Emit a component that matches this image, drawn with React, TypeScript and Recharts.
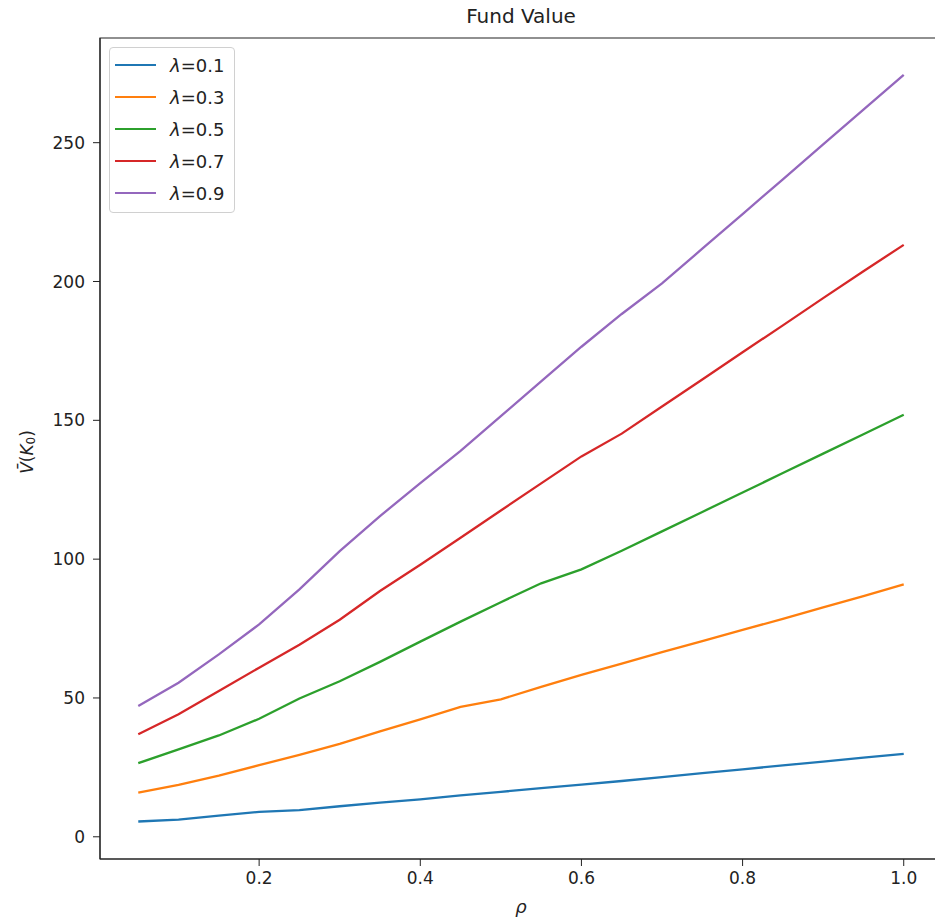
import { LineChart, Line, XAxis, YAxis, ReferenceArea, Legend, Label } from 'recharts';

const rho = [0.05, 0.1, 0.15, 0.2, 0.25, 0.3, 0.35, 0.4, 0.45, 0.5, 0.55, 0.6, 0.65, 0.7, 0.75, 0.8, 0.85, 0.9, 0.95, 1.0];

const lambda01 = [5.5, 6.2, 7.6, 9.0, 9.6, 11.0, 12.3, 13.5, 14.9, 16.2, 17.5, 18.8, 20.1, 21.5, 22.9, 24.3, 25.7, 27.1, 28.5, 29.9];
const lambda03 = [15.9, 18.7, 22.0, 25.8, 29.5, 33.5, 38.0, 42.3, 46.8, 49.5, 54.0, 58.3, 62.4, 66.5, 70.5, 74.5, 78.5, 82.6, 86.7, 90.9];
const lambda05 = [26.5, 31.5, 36.5, 42.5, 49.8, 56.0, 63.0, 70.3, 77.5, 84.5, 91.3, 96.3, 103.0, 110.0, 117.0, 124.0, 131.0, 138.0, 145.0, 152.0];
const lambda07 = [36.9, 44.1, 52.5, 60.9, 69.2, 78.2, 88.5, 98.0, 107.7, 117.5, 127.3, 137.0, 145.2, 155.0, 164.7, 174.5, 184.2, 194.0, 203.7, 213.2];
const lambda09 = [47.1, 55.5, 65.7, 76.5, 89.1, 102.9, 115.5, 127.4, 139.0, 151.5, 164.0, 176.5, 188.3, 199.3, 211.8, 224.3, 236.8, 249.4, 261.9, 274.4];

const xTicks = [0.2, 0.4, 0.6, 0.8, 1.0];
const yTicks = [0, 50, 100, 150, 200, 250];

const series = [
  { key: 'l01', name: '0.1', values: lambda01, color: '#1f77b4' },
  { key: 'l03', name: '0.3', values: lambda03, color: '#ff7f0e' },
  { key: 'l05', name: '0.5', values: lambda05, color: '#2ca02c' },
  { key: 'l07', name: '0.7', values: lambda07, color: '#d62728' },
  { key: 'l09', name: '0.9', values: lambda09, color: '#9467bd' },
];

const data = rho.map((r, i) => {
  const row: Record<string, number> = { rho: r };
  series.forEach((s) => {
    row[s.key] = s.values[i];
  });
  return row;
});

const FONT = '"DejaVu Sans", sans-serif';
const X_DOMAIN: [number, number] = [0.0025, 1.0475];
const Y_DOMAIN: [number, number] = [-8, 287.7];

const LegendBox = () => (
  <div
    style={{
      border: '1px solid #d0d0d0',
      borderRadius: 4,
      background: 'rgba(255,255,255,0.8)',
      padding: '1px 10px 3px 5px',
      fontFamily: FONT,
      fontSize: 18,
      color: '#222',
      width: 'fit-content',
    }}
  >
    {series.map((s) => (
      <div key={s.key} style={{ display: 'flex', alignItems: 'center', height: 32 }}>
        <div style={{ width: 41, height: 2.5, background: s.color, marginRight: 14 }} />
        <span>
          <span style={{ fontStyle: 'italic' }}>λ</span>={s.name}
        </span>
      </div>
    ))}
  </div>
);

const YLabel = () => (
  <text
    x={27}
    y={452}
    transform="rotate(-90, 27, 452)"
    textAnchor="middle"
    dominantBaseline="central"
    fontFamily={FONT}
    fontSize={17}
    fill="#222"
  >
    <tspan fontStyle="italic">V̄</tspan>
    <tspan>(</tspan>
    <tspan fontStyle="italic">K</tspan>
    <tspan fontSize={12} dy={4}>0</tspan>
    <tspan dy={-4}>)</tspan>
  </text>
);

const XLabel = () => (
  <text
    x={521}
    y={906}
    textAnchor="middle"
    dominantBaseline="central"
    fontFamily={FONT}
    fontSize={18}
    fontStyle="italic"
    fill="#222"
  >
    ρ
  </text>
);

export default function App() {
  return (
    <div
      style={{
        position: 'absolute',
        left: 0,
        top: 0,
        width: 935,
        height: 920,
        overflow: 'hidden',
        background: '#fff',
      }}
    >
      <div
        style={{
          position: 'absolute',
          top: 4,
          left: 0,
          width: 1042,
          textAlign: 'center',
          fontFamily: FONT,
          fontSize: 20,
          color: '#222',
        }}
      >
        Fund Value
      </div>
      <LineChart width={945} height={920} data={data} margin={{ top: 38, right: 3, left: 0, bottom: 0 }}>
        <XAxis
          dataKey="rho"
          type="number"
          domain={X_DOMAIN}
          ticks={xTicks}
          allowDataOverflow
          tickFormatter={(v: number) => v.toFixed(1)}
          height={61}
          tickSize={7}
          tickMargin={6}
          stroke="#222"
          tick={{ fill: '#222', fontSize: 17, fontFamily: FONT }}
          label={<Label content={<XLabel />} />}
        />
        <YAxis
          type="number"
          domain={Y_DOMAIN}
          ticks={yTicks}
          allowDataOverflow
          width={100}
          tickSize={7}
          tickMargin={8}
          stroke="#222"
          tick={{ fill: '#222', fontSize: 17, fontFamily: FONT }}
          label={<Label content={<YLabel />} />}
        />
        <ReferenceArea
          x1={X_DOMAIN[0]}
          x2={X_DOMAIN[1]}
          y1={Y_DOMAIN[0]}
          y2={Y_DOMAIN[1]}
          fill="none"
          stroke="#222"
          strokeWidth={1.2}
          ifOverflow="visible"
        />
        {series.map((s) => (
          <Line
            key={s.key}
            dataKey={s.key}
            name={s.name}
            stroke={s.color}
            strokeWidth={2.3}
            dot={false}
            activeDot={false}
            type="linear"
            isAnimationActive={false}
          />
        ))}
        <Legend
          content={<LegendBox />}
          layout="horizontal"
          verticalAlign="middle"
          align="center"
          wrapperStyle={{ position: 'absolute', top: 47, left: 109, width: 'auto', height: 'auto' }}
        />
      </LineChart>
    </div>
  );
}
